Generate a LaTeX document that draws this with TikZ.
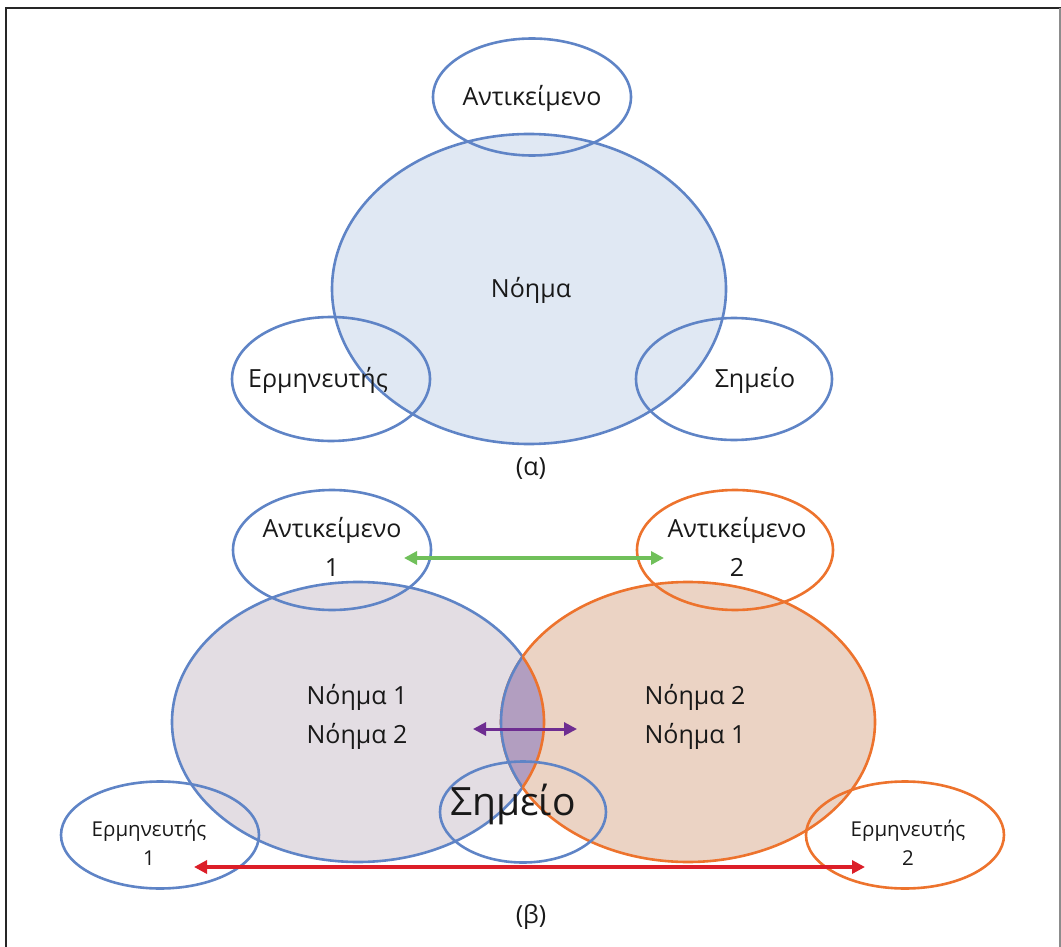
\documentclass[tikz,border=0pt]{standalone}
\usepackage{fontspec}
\setmainfont{Open Sans}
\usetikzlibrary{arrows.meta,positioning,shapes.geometric}
\definecolor{ringblue}{RGB}{95,132,198}
\definecolor{ringorange}{RGB}{237,115,45}
\definecolor{fillblue}{RGB}{224,232,243}
\definecolor{fillmauve}{RGB}{227,221,227}
\definecolor{fillpeach}{RGB}{235,211,196}
\definecolor{filllens}{RGB}{178,158,192}
\definecolor{arrgreen}{RGB}{112,192,90}
\definecolor{arrred}{RGB}{220,30,40}
\definecolor{arrpurple}{RGB}{110,45,145}
\tikzset{
  ring/.style={draw=#1, line width=2.6pt, ellipse, inner sep=0pt},
  blob/.style={draw=#1, line width=2.6pt, ellipse, inner sep=0pt},
  lbl/.style={font=\fontsize{25}{39}\selectfont, text=black!90, align=center, inner sep=0pt},
  slbl/.style={font=\fontsize{20.5}{29}\selectfont, text=black!90, align=center, inner sep=0pt},
  dual/.style={draw=#1, line width=3.6pt, {Triangle[length=13pt,width=13pt]}-{Triangle[length=13pt,width=13pt]}},
}

\begin{document}
\begin{tikzpicture}[x=1pt, y=-1pt]
\useasboundingbox (0,0) rectangle (1061,947);

% frame
\draw[line width=2.8pt, black!85] (6,947) -- (6,8) -- (1061,8);
\draw[line width=1.6pt, black!45] (1060,8) -- (1060,947);

% (a) single interpreter
\node[blob=ringblue, fill=fillblue, minimum width=394pt, minimum height=310pt] (noima) at (529,289) {};
\node[ring=ringblue, minimum width=198pt, minimum height=117pt] (antik) at (532,97) {};
\node[ring=ringblue, minimum width=198pt, minimum height=124pt] (erm) at (331,379) {};
\node[ring=ringblue, minimum width=196pt, minimum height=122pt] (simeio) at (734,379) {};

\node[lbl] (tnoima) at (531,290) {Νόημα};
\node[lbl] (tantik) at (532,98) {Αντικείμενο};
\node[lbl] (term) at (318,380) {Ερμηνευτής};
\node[lbl] (tsimeio) at (755,380) {Σημείο};
\node[lbl] (capa) at (531,469) {(α)};

% (b) two interpreters
\node[blob=ringblue, fill=fillmauve, minimum width=372pt, minimum height=280pt] (noima1) at (358,722) {};
\node[blob=ringorange, fill=fillpeach, minimum width=374pt, minimum height=280pt] (noima2) at (688,722) {};

% overlap of the two meanings
\begin{scope}
  \clip (358,722) ellipse [x radius=186pt, y radius=140pt];
  \fill[filllens] (688,722) ellipse [x radius=187pt, y radius=140pt];
  \draw[ringblue, line width=2.6pt] (688,722) ellipse [x radius=187pt, y radius=140pt];
\end{scope}
\begin{scope}
  \clip (688,722) ellipse [x radius=187pt, y radius=140pt];
  \draw[ringorange, line width=2.6pt] (358,722) ellipse [x radius=186pt, y radius=140pt];
\end{scope}

\node[ring=ringblue, minimum width=198pt, minimum height=120pt] (antik1) at (332,550) {};
\node[ring=ringorange, minimum width=196pt, minimum height=120pt] (antik2) at (735,550) {};
\node[ring=ringblue, minimum width=166pt, minimum height=101pt] (simeio2) at (523,812) {};
\node[ring=ringblue, minimum width=198pt, minimum height=107pt] (erm1) at (160,835) {};
\node[ring=ringorange, minimum width=198pt, minimum height=107pt] (erm2) at (905,835) {};

\node[lbl] (tantik1) at (332,547) {Αντικείμενο\\1};
\node[lbl] (tantik2) at (737,547) {Αντικείμενο\\2};
\node[lbl] (tnoima1) at (357,717) {Νόημα 1\\Νόημα 2};
\node[lbl] (tnoima2) at (695,717) {Νόημα 2\\Νόημα 1};
\node[font=\fontsize{39}{44}\selectfont, text=black!90, inner sep=0pt] (tsimeio2) at (513,804) {Σημείο};
\node[slbl] (term1) at (149,843) {Ερμηνευτής\\1};
\node[slbl] (term2) at (908,843) {Ερμηνευτής\\2};
\node[lbl] (capb) at (531,917) {(β)};

% links
\coordinate (g1) at (404,558);
\coordinate (g2) at (664,558);
\coordinate (p1) at (473,729);
\coordinate (p2) at (577,729);
\coordinate (r1) at (194,867);
\coordinate (r2) at (865,867);
\draw[dual=arrgreen] (g1) -- (g2);
\draw[dual=arrpurple, line width=3pt] (p1) -- (p2);
\draw[dual=arrred] (r1) -- (r2);

\end{tikzpicture}
\end{document}
